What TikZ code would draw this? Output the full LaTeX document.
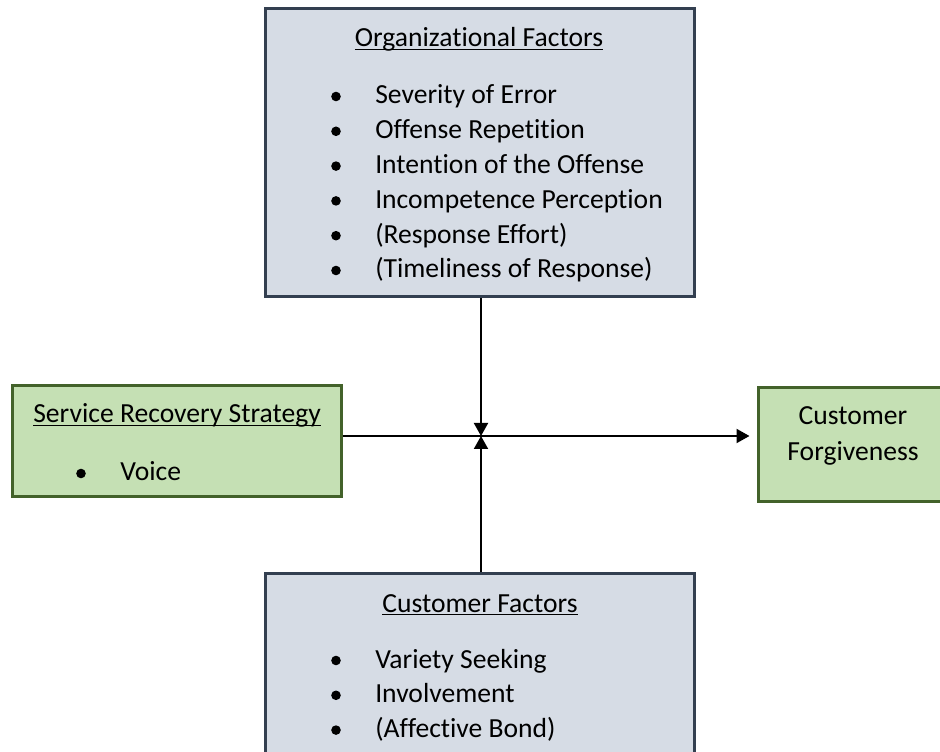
\documentclass[tikz,border=0pt]{standalone}
\usepackage{fontspec}
\setmainfont{Carlito}[Ligatures=NoCommon]
\usetikzlibrary{arrows.meta,calc}
\definecolor{slatefill}{HTML}{D6DCE5}
\definecolor{slateline}{HTML}{333F50}
\definecolor{greenfill}{HTML}{C5E0B4}
\definecolor{greenline}{HTML}{43622A}
% word-style underline that runs just below the baseline
\newcommand\ulword[1]{\setbox0\hbox{#1}\rlap{\rule[-2.4pt]{\wd0}{1pt}}\box0}
\begin{document}
\begin{tikzpicture}[x=0.75pt,y=-0.75pt,
  font=\fontsize{20.7pt}{26pt}\selectfont,
  slatebox/.style={rectangle,draw=slateline,fill=slatefill,line width=2.25pt,inner sep=0pt},
  greenbox/.style={rectangle,draw=greenline,fill=greenfill,line width=2.25pt,inner sep=0pt},
  itemtext/.style={inner sep=0pt,anchor=base west},
  heading/.style={inner sep=0pt,anchor=base},
  flow/.style={line width=1.5pt,-{Triangle[length=9.75pt,width=10.5pt]}},
]
\useasboundingbox (0,0) rectangle (940,752);
\clip (0,0) rectangle (940,752);

% boxes
\node[slatebox,minimum width=321.75pt,minimum height=216pt] (org) at (479.5,153) {};
\node[slatebox,minimum width=321.75pt,minimum height=147.75pt] (cust) at (479.5,671.5) {};
\node[greenbox,minimum width=246.75pt,minimum height=83.25pt] (svc) at (176.5,441.5) {};
\node[greenbox,minimum width=145.5pt,minimum height=85.5pt] (fgv) at (855,445) {};

% organizational factors
\node[heading] (orgT) at (479,47) {\ulword{Organizational Factors}};
\node[itemtext] (o1) at (375,104) {Severity of Error};
\node[itemtext] (o2) at (375,138.8) {Offense Repetition};
\node[itemtext] (o3) at (375,173.6) {Intention of the Offense};
\node[itemtext] (o4) at (375,208.4) {Incompetence Perception};
\node[itemtext] (o5) at (375,243.2) {(Response Effort)};
\node[itemtext] (o6) at (375,278) {(Timeliness of Response)};

% customer factors
\node[heading] (custT) at (480,612) {\ulword{Customer Factors}};
\node[itemtext] (c1) at (375,668) {Variety Seeking};
\node[itemtext] (c2) at (375,702.8) {Involvement};
\node[itemtext] (c3) at (375,737.6) {(Affective Bond)};

% service recovery strategy
\node[heading] (svcT) at (177,423) {\ulword{Service Recovery Strategy}};
\node[itemtext] (s1) at (120,481) {Voice};

% outcome
\node[heading] (fgv1) at (853,425) {Customer};
\node[heading] (fgv2) at (853,461) {Forgiveness};

% list bullets
\foreach \n in {o1,o2,o3,o4,o5,o6,c1,c2,c3,s1}
  \fill ($(\n.base west)+(-39,-7.5)$) circle (4.8);

% connectors meeting at one junction
\coordinate (j) at (481,436);
\draw[flow] (org.south -| j) -- (j);
\draw[flow] (cust.north -| j) -- (j);
\draw[flow,shorten >=5.25pt] (svc.east |- j) -- (fgv.west |- j);
\end{tikzpicture}
\end{document}
